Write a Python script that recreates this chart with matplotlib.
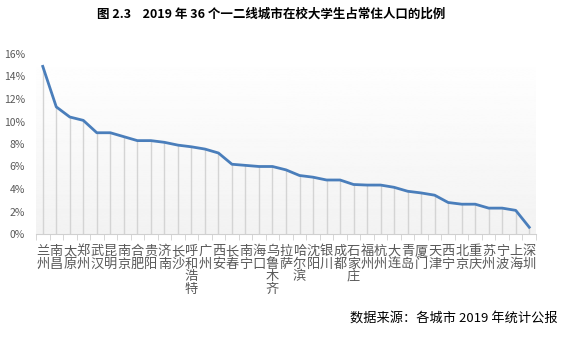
import matplotlib.pyplot as plt
import numpy as np
from matplotlib.ticker import FuncFormatter, FixedLocator

plt.rcParams['font.family'] = ['Noto Sans CJK SC', 'DejaVu Sans']

# city and share of students among resident population (%)
cities = ['兰州', '南昌', '太原', '郑州', '武汉', '昆明', '南京', '合肥', '贵阳', '济南',
          '长沙', '呼和浩特', '广州', '西安', '长春', '南宁', '海口', '乌鲁木齐', '拉萨',
          '哈尔滨', '沈阳', '银川', '成都', '石家庄', '福州', '杭州', '大连', '青岛',
          '厦门', '天津', '西宁', '北京', '重庆', '苏州', '宁波', '上海', '深圳']
ratio = [14.9, 11.3, 10.4, 10.1, 9.0, 9.0, 8.65, 8.3, 8.3, 8.15,
         7.9, 7.75, 7.55, 7.2, 6.2, 6.1, 6.0, 6.0, 5.7,
         5.2, 5.05, 4.8, 4.8, 4.4, 4.35, 4.35, 4.15, 3.8,
         3.65, 3.45, 2.8, 2.65, 2.65, 2.3, 2.3, 2.1, 0.6]

W, H = 576, 338
fig = plt.figure(figsize=(W / 100, H / 100), dpi=100)
ax = fig.add_axes([36 / W, (H - 234) / H, 500 / W, 180 / H])

x = np.arange(len(cities))
ax.set_xlim(-0.5, len(cities) - 0.5)
ax.set_ylim(0, 16)

# light vertical gradient behind the plot
grad = np.linspace(1.0, 0.95, 256).reshape(-1, 1)
ax.imshow(grad, extent=[-0.5, len(cities) - 0.5, 0, 16], aspect='auto',
          cmap='gray', vmin=0, vmax=1, zorder=0)

ax.vlines(x, 0, ratio, color='#d4d4d4', lw=1, zorder=1)
ax.plot(x, ratio, color='#4a7ebb', lw=2, solid_joinstyle='round', zorder=3)

for s in ['top', 'right', 'left']:
    ax.spines[s].set_visible(False)
ax.spines['bottom'].set_color('#d0d0d0')

ax.set_yticks(range(0, 17, 2))
ax.yaxis.set_major_formatter(FuncFormatter(lambda v, p: '%d%%' % v))
ax.tick_params(axis='y', length=0, labelsize=7.5, labelcolor='#595959', pad=8)

ax.set_xticks(x)
ax.set_xticklabels(['\n'.join(c) for c in cities], linespacing=0.95,
                   va='top', fontsize=9.5, color='#595959')
ax.tick_params(axis='x', which='major', length=0, pad=8)
ax.xaxis.set_minor_locator(FixedLocator(np.arange(-0.5, len(cities), 1)))
ax.tick_params(axis='x', which='minor', length=4, color='#d0d0d0')

fig.text(271 / W, 1 - 14 / H, '图 2.3    2019 年 36 个一二线城市在校大学生占常住人口的比例',
         ha='center', va='center', fontsize=9, fontweight='bold', color='black')
fig.text(558 / W, 1 - 318 / H, '数据来源：各城市 2019 年统计公报',
         ha='right', va='center', fontsize=9.5, color='black')

fig.savefig('out.png', dpi=100)
